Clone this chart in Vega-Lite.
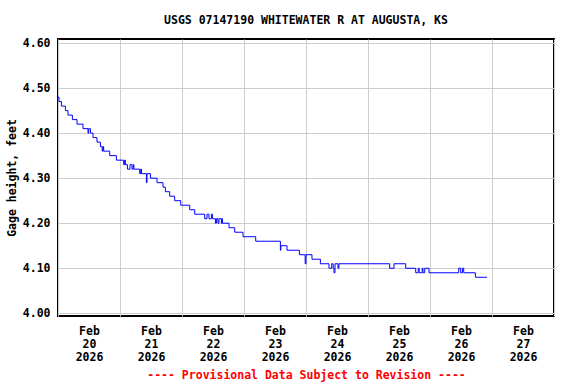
{
  "$schema": "https://vega.github.io/schema/vega-lite/v6.json",
  "width": 496,
  "height": 277,
  "autosize": {"type": "none"},
  "padding": {"left": 58, "top": 39, "right": 22, "bottom": 68},
  "background": "white",
  "title": {
    "text": "USGS 07147190 WHITEWATER R AT AUGUSTA, KS",
    "font": "DejaVu Sans Mono",
    "fontWeight": "bold",
    "fontSize": 11.5,
    "color": "black",
    "anchor": "middle",
    "offset": 11
  },
  "config": {
    "view": {"stroke": "black", "strokeWidth": 2},
    "axis": {
      "labelFont": "DejaVu Sans Mono",
      "labelFontWeight": "bold",
      "labelFontSize": 11.5,
      "labelColor": "black",
      "titleFont": "DejaVu Sans Mono",
      "titleFontWeight": "bold",
      "titleFontSize": 11.5,
      "titleColor": "black",
      "gridColor": "#cccccc",
      "gridWidth": 1,
      "gridOpacity": 1,
      "domain": false,
      "ticks": false
    }
  },
  "data": {
    "values": [
      {"t": "2026-02-20T00:00:00Z", "v": 4.48},
      {"t": "2026-02-20T00:23:00Z", "v": 4.47},
      {"t": "2026-02-20T01:19:00Z", "v": 4.46},
      {"t": "2026-02-20T02:52:00Z", "v": 4.45},
      {"t": "2026-02-20T03:52:00Z", "v": 4.44},
      {"t": "2026-02-20T05:34:00Z", "v": 4.43},
      {"t": "2026-02-20T07:21:00Z", "v": 4.42},
      {"t": "2026-02-20T09:41:00Z", "v": 4.41},
      {"t": "2026-02-20T11:37:00Z", "v": 4.40},
      {"t": "2026-02-20T11:53:00Z", "v": 4.41},
      {"t": "2026-02-20T12:33:00Z", "v": 4.40},
      {"t": "2026-02-20T13:33:00Z", "v": 4.39},
      {"t": "2026-02-20T15:06:00Z", "v": 4.38},
      {"t": "2026-02-20T16:25:00Z", "v": 4.37},
      {"t": "2026-02-20T17:07:00Z", "v": 4.36},
      {"t": "2026-02-20T17:23:00Z", "v": 4.37},
      {"t": "2026-02-20T17:41:00Z", "v": 4.36},
      {"t": "2026-02-20T20:01:00Z", "v": 4.35},
      {"t": "2026-02-20T22:36:00Z", "v": 4.34},
      {"t": "2026-02-21T01:26:00Z", "v": 4.33},
      {"t": "2026-02-21T01:49:00Z", "v": 4.34},
      {"t": "2026-02-21T02:05:00Z", "v": 4.33},
      {"t": "2026-02-21T02:52:00Z", "v": 4.32},
      {"t": "2026-02-21T03:52:00Z", "v": 4.33},
      {"t": "2026-02-21T04:39:00Z", "v": 4.32},
      {"t": "2026-02-21T05:07:00Z", "v": 4.33},
      {"t": "2026-02-21T05:23:00Z", "v": 4.32},
      {"t": "2026-02-21T07:38:00Z", "v": 4.31},
      {"t": "2026-02-21T08:01:00Z", "v": 4.32},
      {"t": "2026-02-21T08:19:00Z", "v": 4.31},
      {"t": "2026-02-21T10:13:00Z", "v": 4.29},
      {"t": "2026-02-21T10:27:00Z", "v": 4.31},
      {"t": "2026-02-21T11:46:00Z", "v": 4.30},
      {"t": "2026-02-21T14:19:00Z", "v": 4.29},
      {"t": "2026-02-21T16:39:00Z", "v": 4.28},
      {"t": "2026-02-21T17:34:00Z", "v": 4.27},
      {"t": "2026-02-21T19:14:00Z", "v": 4.26},
      {"t": "2026-02-21T21:10:00Z", "v": 4.25},
      {"t": "2026-02-21T23:30:00Z", "v": 4.24},
      {"t": "2026-02-22T02:59:00Z", "v": 4.23},
      {"t": "2026-02-22T04:55:00Z", "v": 4.22},
      {"t": "2026-02-22T08:47:00Z", "v": 4.21},
      {"t": "2026-02-22T09:41:00Z", "v": 4.22},
      {"t": "2026-02-22T10:27:00Z", "v": 4.21},
      {"t": "2026-02-22T11:23:00Z", "v": 4.22},
      {"t": "2026-02-22T11:46:00Z", "v": 4.21},
      {"t": "2026-02-22T12:56:00Z", "v": 4.20},
      {"t": "2026-02-22T13:19:00Z", "v": 4.21},
      {"t": "2026-02-22T13:56:00Z", "v": 4.20},
      {"t": "2026-02-22T14:19:00Z", "v": 4.21},
      {"t": "2026-02-22T15:15:00Z", "v": 4.20},
      {"t": "2026-02-22T15:29:00Z", "v": 4.21},
      {"t": "2026-02-22T15:38:00Z", "v": 4.20},
      {"t": "2026-02-22T18:12:00Z", "v": 4.19},
      {"t": "2026-02-22T20:24:00Z", "v": 4.18},
      {"t": "2026-02-22T23:37:00Z", "v": 4.17},
      {"t": "2026-02-23T04:32:00Z", "v": 4.16},
      {"t": "2026-02-23T14:05:00Z", "v": 4.14},
      {"t": "2026-02-23T14:17:00Z", "v": 4.15},
      {"t": "2026-02-23T16:39:00Z", "v": 4.14},
      {"t": "2026-02-23T21:27:00Z", "v": 4.13},
      {"t": "2026-02-23T23:41:00Z", "v": 4.11},
      {"t": "2026-02-24T00:00:00Z", "v": 4.13},
      {"t": "2026-02-24T02:19:00Z", "v": 4.12},
      {"t": "2026-02-24T05:34:00Z", "v": 4.11},
      {"t": "2026-02-24T08:54:00Z", "v": 4.10},
      {"t": "2026-02-24T09:57:00Z", "v": 4.11},
      {"t": "2026-02-24T10:32:00Z", "v": 4.10},
      {"t": "2026-02-24T10:50:00Z", "v": 4.09},
      {"t": "2026-02-24T11:14:00Z", "v": 4.11},
      {"t": "2026-02-24T12:23:00Z", "v": 4.10},
      {"t": "2026-02-24T12:46:00Z", "v": 4.11},
      {"t": "2026-02-25T08:24:00Z", "v": 4.10},
      {"t": "2026-02-25T10:04:00Z", "v": 4.11},
      {"t": "2026-02-25T14:36:00Z", "v": 4.10},
      {"t": "2026-02-25T18:28:00Z", "v": 4.09},
      {"t": "2026-02-25T19:26:00Z", "v": 4.10},
      {"t": "2026-02-25T19:49:00Z", "v": 4.09},
      {"t": "2026-02-25T20:59:00Z", "v": 4.10},
      {"t": "2026-02-25T21:17:00Z", "v": 4.09},
      {"t": "2026-02-25T21:57:00Z", "v": 4.10},
      {"t": "2026-02-25T23:37:00Z", "v": 4.09},
      {"t": "2026-02-26T11:07:00Z", "v": 4.10},
      {"t": "2026-02-26T11:53:00Z", "v": 4.09},
      {"t": "2026-02-26T12:33:00Z", "v": 4.10},
      {"t": "2026-02-26T13:03:00Z", "v": 4.09},
      {"t": "2026-02-26T17:34:00Z", "v": 4.08},
      {"t": "2026-02-26T22:04:00Z", "v": 4.08}
    ]
  },
  "mark": {"type": "line", "interpolate": "step-after", "color": "#0000ff", "strokeWidth": 1, "clip": true},
  "encoding": {
    "x": {
      "field": "t",
      "type": "temporal",
      "scale": {
        "type": "utc",
        "domain": [
          {"year": 2026, "month": 2, "date": 20, "utc": true},
          {"year": 2026, "month": 2, "date": 28, "utc": true}
        ],
        "nice": false
      },
      "axis": {
        "values": [
          {"year": 2026, "month": 2, "date": 20, "utc": true},
          {"year": 2026, "month": 2, "date": 21, "utc": true},
          {"year": 2026, "month": 2, "date": 22, "utc": true},
          {"year": 2026, "month": 2, "date": 23, "utc": true},
          {"year": 2026, "month": 2, "date": 24, "utc": true},
          {"year": 2026, "month": 2, "date": 25, "utc": true},
          {"year": 2026, "month": 2, "date": 26, "utc": true},
          {"year": 2026, "month": 2, "date": 27, "utc": true},
          {"year": 2026, "month": 2, "date": 28, "utc": true}
        ],
        "grid": true,
        "labelExpr": "utcFormat(datum.value, '%d') == '28' ? '' : [utcFormat(datum.value, '%b'), utcFormat(datum.value, '%d'), utcFormat(datum.value, '%Y')]",
        "labelOffset": 31,
        "labelPadding": 9,
        "labelAlign": "center",
        "labelBaseline": "top",
        "labelLineHeight": 13,
        "labelFlush": false,
        "labelOverlap": false,
        "labelBound": false,
        "title": "---- Provisional Data Subject to Revision ----",
        "titleColor": "#ff0000",
        "titlePadding": 7
      }
    },
    "y": {
      "field": "v",
      "type": "quantitative",
      "scale": {"domain": [3.994, 4.609], "nice": false, "zero": false},
      "axis": {
        "values": [4.0, 4.1, 4.2, 4.3, 4.4, 4.5, 4.6],
        "format": ".2f",
        "grid": true,
        "labelPadding": 8,
        "title": "Gage height, feet",
        "titlePadding": 5
      }
    }
  }
}
